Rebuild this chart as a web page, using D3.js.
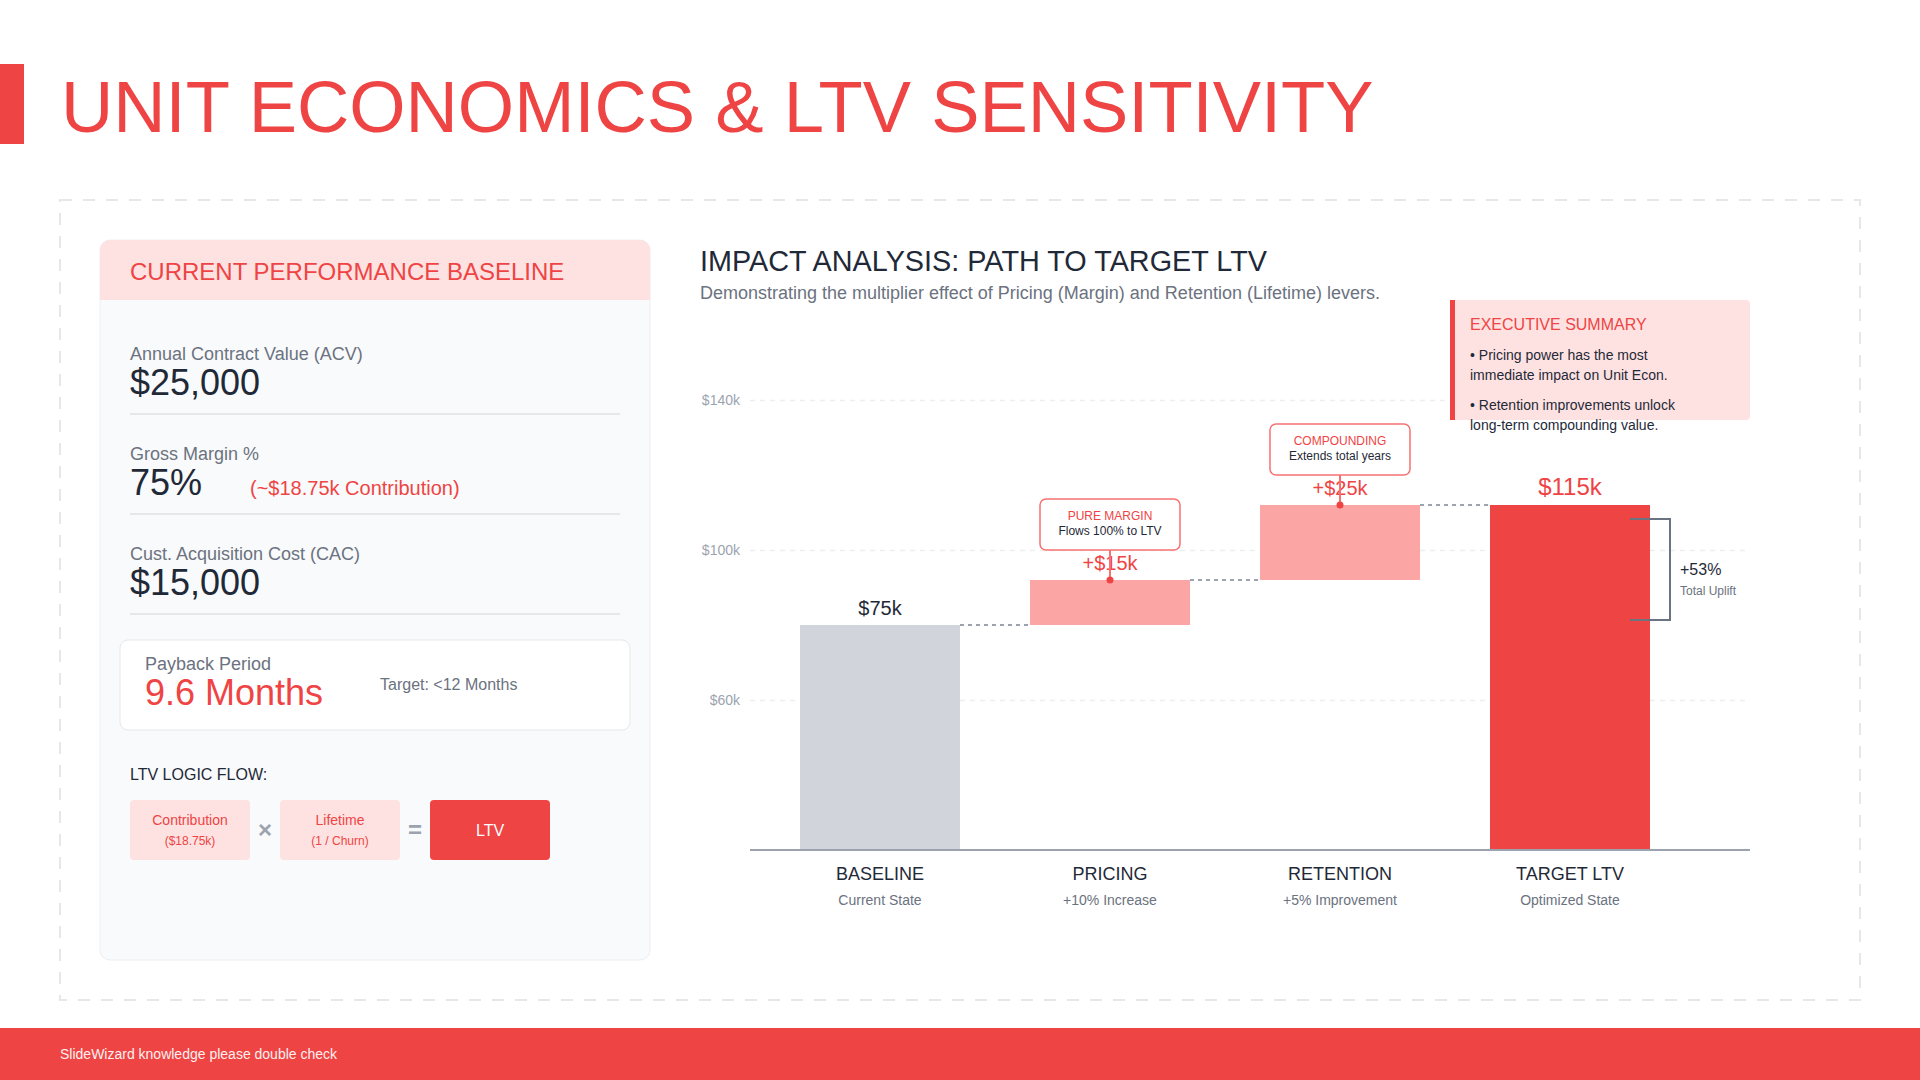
<!DOCTYPE html>
<html>
<head>
<meta charset="utf-8">
<script src="https://cdn.jsdelivr.net/npm/d3@7"></script>
<style>
  html, body { margin: 0; padding: 0; background: #fff; }
  svg { display: block; font-family: "Liberation Sans", Arial, Helvetica, sans-serif; }
</style>
</head>
<body>
<svg id="slide" width="1920" height="1080"></svg>
<script>
// waterfall data (values in $k)
const CATS = ['BASELINE', 'PRICING', 'RETENTION', 'TARGET LTV'];
const SUBS = ['Current State', '+10% Increase', '+5% Improvement', 'Optimized State'];
const STEPS = [75, 15, 25, 115];
const KINDS = ['base', 'delta', 'delta', 'total'];
const VALUE_LABELS = ['$75k', '+$15k', '+$25k', '$115k'];
const CALLOUT_TITLES = [null, 'PURE MARGIN', 'COMPOUNDING', null];
const CALLOUT_NOTES = [null, 'Flows 100% to LTV', 'Extends total years', null];
const TICKS = [60, 100, 140];
const UPLIFT = ['+53%', 'Total Uplift'];

// left card data
const METRIC_LABELS = ['Annual Contract Value (ACV)', 'Gross Margin %', 'Cust. Acquisition Cost (CAC)'];
const METRIC_VALUES = ['$25,000', '75%', '$15,000'];
const METRIC_NOTES = [null, '(~$18.75k Contribution)', null];
const PAYBACK = ['Payback Period', '9.6 Months', 'Target: <12 Months'];
const FLOW_TITLES = ['Contribution', 'Lifetime', 'LTV'];
const FLOW_NOTES = ['($18.75k)', '(1 / Churn)', null];
const FLOW_OPS = ['×', '='];
const SUMMARY = [
  ['• Pricing power has the most', 'immediate impact on Unit Econ.'],
  ['• Retention improvements unlock', 'long-term compounding value.']
];

const RED = '#ef4444', PINK = '#fee2e2', SOFT = '#fca5a5', GREY = '#d1d5db';
const INK = '#1f2937', MUTED = '#6b7280', FAINT = '#9ca3af', LINE = '#e5e7eb';
const FILL = {base: GREY, delta: SOFT, total: RED};

const svg = d3.select('#slide');
const txt = (g, x, y, s, size, fill, anchor) => g.append('text')
  .attr('x', x).attr('y', y).attr('font-size', size).attr('fill', fill)
  .attr('text-anchor', anchor || 'start').text(s);

// frame: title, dashed panel, footer
svg.append('rect').attr('x', 0).attr('y', 64).attr('width', 24).attr('height', 80).attr('fill', RED);
txt(svg, 61, 132, 'UNIT ECONOMICS & LTV SENSITIVITY', 72.4, RED);
svg.append('rect').attr('x', 60).attr('y', 200).attr('width', 1800).attr('height', 800)
  .attr('fill', 'none').attr('stroke', LINE).attr('stroke-width', 2).attr('stroke-dasharray', '12 11');
svg.append('rect').attr('x', 0).attr('y', 1028).attr('width', 1920).attr('height', 52).attr('fill', RED);
txt(svg, 60, 1059, 'SlideWizard knowledge please double check', 14, '#fff').attr('opacity', 0.92);

// left card
const card = svg.append('g');
card.append('rect').attr('x', 100).attr('y', 240).attr('width', 550).attr('height', 720).attr('rx', 10)
  .attr('fill', '#f9fafb').attr('stroke', '#eceef1');
card.append('path').attr('d', 'M100,300 V250 a10,10 0 0 1 10,-10 H640 a10,10 0 0 1 10,10 V300 Z').attr('fill', PINK);
txt(card, 130, 280, 'CURRENT PERFORMANCE BASELINE', 24, RED);

METRIC_LABELS.forEach((l, i) => {
  const y0 = 360 + i * 100;
  txt(card, 130, y0, l, 18, MUTED);
  txt(card, 130, y0 + 35, METRIC_VALUES[i], 36, INK);
  if (METRIC_NOTES[i]) txt(card, 250, y0 + 35, METRIC_NOTES[i], 20, RED);
  card.append('line').attr('x1', 130).attr('x2', 620).attr('y1', y0 + 54).attr('y2', y0 + 54)
    .attr('stroke', LINE).attr('stroke-width', 2);
});

card.append('rect').attr('x', 120).attr('y', 640).attr('width', 510).attr('height', 90).attr('rx', 8)
  .attr('fill', '#fff').attr('stroke', LINE);
txt(card, 145, 670, PAYBACK[0], 18, MUTED);
txt(card, 145, 705, PAYBACK[1], 36, RED);
txt(card, 380, 690, PAYBACK[2], 16, MUTED);

txt(card, 130, 780, 'LTV LOGIC FLOW:', 16, INK);
FLOW_TITLES.forEach((t, i) => {
  const x0 = 130 + i * 150, last = i === FLOW_TITLES.length - 1;
  card.append('rect').attr('x', x0).attr('y', 800).attr('width', 120).attr('height', 60).attr('rx', 4)
    .attr('fill', last ? RED : PINK);
  if (last) txt(card, x0 + 60, 836, t, 16, '#fff', 'middle');
  else {
    txt(card, x0 + 60, 825, t, 14, RED, 'middle');
    txt(card, x0 + 60, 845, FLOW_NOTES[i], 12, RED, 'middle');
  }
  if (i < FLOW_OPS.length) txt(card, x0 + 135, 838, FLOW_OPS[i], 24, FAINT, 'middle').attr('font-weight', 700);
});

// chart heading
txt(svg, 700, 271, 'IMPACT ANALYSIS: PATH TO TARGET LTV', 28.8, INK);
txt(svg, 700, 299, 'Demonstrating the multiplier effect of Pricing (Margin) and Retention (Lifetime) levers.', 18, MUTED);

// scales
const x = d3.scaleBand().domain(CATS).range([750, 1700]).paddingInner(0.3043).paddingOuter(0.2174);
const y = d3.scaleLinear().domain([0, 200]).range([850, 250]);
const yAxisScale = d3.scaleLinear().domain([20, 180]).range([850, 250]);

// grid + tick labels
const grid = svg.append('g').attr('transform', 'translate(750,0)')
  .call(d3.axisLeft(yAxisScale).tickValues(TICKS).tickSize(-1000).tickPadding(10).tickFormat(d => `$${d}k`));
grid.select('.domain').remove();
grid.selectAll('.tick line').attr('stroke', '#eceef0').attr('stroke-width', 1.5).attr('stroke-dasharray', '5 5');
grid.selectAll('.tick text').attr('fill', FAINT).attr('font-size', 14).attr('font-family', null);

// waterfall rows
let run = 0;
const rows = CATS.map((c, i) => {
  const k = KINDS[i];
  const lo = k === 'delta' ? run : 0;
  const hi = k === 'delta' ? run + STEPS[i] : STEPS[i];
  run = hi;
  return {c, i, k, lo, hi};
});

// exec summary box (drawn over the grid)
const ex = svg.append('g');
ex.append('path').attr('d', 'M1450,300 H1746 a4,4 0 0 1 4,4 V416 a4,4 0 0 1 -4,4 H1450 Z').attr('fill', PINK);
ex.append('rect').attr('x', 1450).attr('y', 300).attr('width', 5).attr('height', 120).attr('fill', RED);
txt(ex, 1470, 330, 'EXECUTIVE SUMMARY', 16, RED);
SUMMARY.forEach((p, j) => p.forEach((line, k) => txt(ex, 1470, 360 + j * 50 + k * 20, line, 14, INK)));

// connectors
const gConn = svg.append('g');
rows.slice(0, -1).forEach(r => {
  gConn.append('line')
    .attr('x1', x(r.c) + x.bandwidth()).attr('x2', x(CATS[r.i + 1]))
    .attr('y1', y(r.hi)).attr('y2', y(r.hi))
    .attr('stroke', FAINT).attr('stroke-width', 2).attr('stroke-dasharray', '4 4');
});

svg.append('g').selectAll('rect').data(rows).join('rect')
  .attr('x', d => x(d.c)).attr('width', x.bandwidth())
  .attr('y', d => y(d.hi)).attr('height', d => y(d.lo) - y(d.hi))
  .attr('fill', d => FILL[d.k]);

// baseline axis
svg.append('line').attr('x1', 750).attr('x2', 1750).attr('y1', y(0)).attr('y2', y(0))
  .attr('stroke', FAINT).attr('stroke-width', 2);

const cx = d => x(d.c) + x.bandwidth() / 2;
const gLab = svg.append('g');
rows.forEach(d => {
  txt(gLab, cx(d), y(d.hi) - 10, VALUE_LABELS[d.i], d.k === 'total' ? 24 : 20,
    d.k === 'base' ? INK : RED, 'middle');
  txt(gLab, cx(d), 880, d.c, 18, INK, 'middle');
  txt(gLab, cx(d), 905, SUBS[d.i], 14, MUTED, 'middle');
});

// callouts on the lever bars
rows.filter(d => CALLOUT_TITLES[d.i]).forEach(d => {
  const top = y(d.hi), bx = cx(d) - 70;
  const g = svg.append('g');
  g.append('rect').attr('x', bx).attr('y', top - 81).attr('width', 140).attr('height', 51).attr('rx', 6)
    .attr('fill', '#fff').attr('stroke', '#f87171').attr('stroke-width', 1.5);
  txt(g, cx(d), top - 60, CALLOUT_TITLES[d.i], 12, RED, 'middle');
  txt(g, cx(d), top - 45, CALLOUT_NOTES[d.i], 12, INK, 'middle');
  g.append('line').attr('x1', cx(d)).attr('x2', cx(d)).attr('y1', top - 30).attr('y2', top)
    .attr('stroke', '#f87171').attr('stroke-width', 2);
  g.append('circle').attr('cx', cx(d)).attr('cy', top).attr('r', 3.5).attr('fill', RED);
});

// total uplift bracket
const tot = rows[rows.length - 1], right = x(tot.c) + x.bandwidth();
const b0 = y(tot.hi) + 14, b1 = y(rows[0].hi) - 5, bm = (b0 + b1) / 2;
svg.append('path').attr('d', `M${right - 20},${b0} H${right + 20} V${b1} H${right - 20}`)
  .attr('fill', 'none').attr('stroke', MUTED).attr('stroke-width', 2);
txt(svg, right + 30, bm + 5, UPLIFT[0], 16, INK);
txt(svg, right + 30, bm + 25, UPLIFT[1], 12, MUTED);
</script>
</body>
</html>
